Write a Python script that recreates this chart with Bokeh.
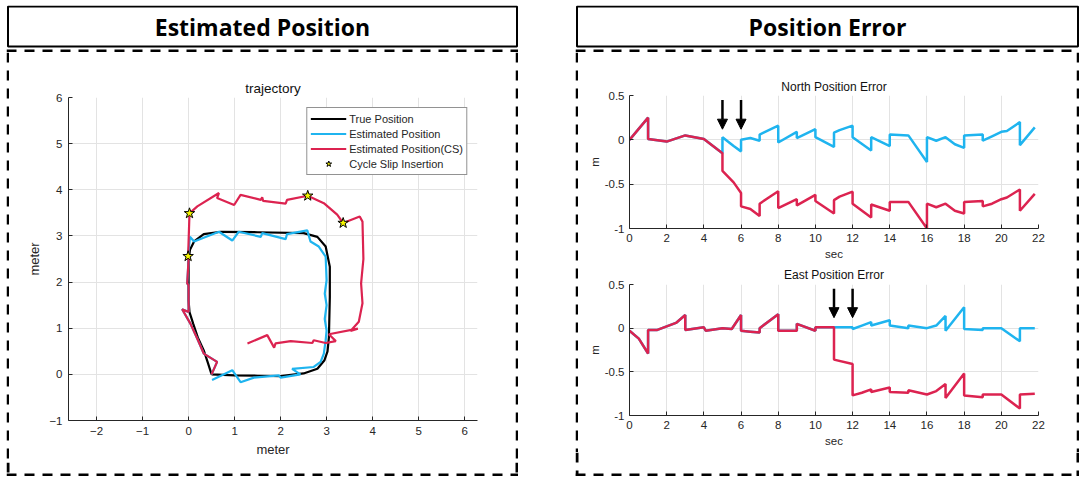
from bokeh.plotting import figure
from bokeh.layouts import row, column
from bokeh.models import (Range1d, FixedTicker, Legend, LegendItem, Label, Arrow,
                          NormalHead, Span, Spacer, BoxAnnotation)
from bokeh.embed import file_html
from bokeh.resources import INLINE

# ---------------- data: trajectory (meter) ----------------
true_x = [0.5, 0.42, 0.33, 0.2, 0.1, 0.02, 0.0, 0.0, 0.0, 0.03, 0.12, 0.33, 0.7, 1.5, 2.5, 2.8,
          2.98, 3.07, 3.07, 3.05, 3.02, 2.95, 2.8, 2.5, 2.0, 1.5, 1.0, 0.5]
true_y = [0.0, 0.25, 0.52, 0.8, 1.1, 1.35, 1.6, 2.0, 2.45, 2.7, 2.88, 3.04, 3.09, 3.08, 3.06, 2.98,
          2.77, 2.33, 1.67, 0.8, 0.5, 0.3, 0.12, 0.02, -0.04, -0.03, -0.02, 0.0]
common_x = [0.5, 0.62, 0.33, 0.2, 0.04, -0.14, 0.0, 0.0, -0.03, 0.0, -0.01]
common_y = [0.0, 0.27, 0.45, 0.75, 1.1, 1.41, 1.35, 1.93, 1.97, 2.48, 2.56]
est_after_x = [0.03, 0.12, 0.66, 0.95, 1.09, 1.57, 1.6, 2.11, 2.14, 2.58, 2.65, 2.83, 2.98, 3.0,
               2.96, 3.0, 2.96, 3.0, 2.98, 2.94, 2.87, 2.72, 2.25, 2.43, 2.0, 1.96, 1.42, 1.13,
               0.95, 0.51]
est_after_y = [2.98, 2.88, 3.09, 2.9, 3.09, 2.98, 3.06, 2.93, 3.04, 3.12, 2.88, 2.77, 2.55, 2.04,
               1.75, 1.5, 1.2, 0.95, 0.74, 0.45, 0.27, 0.16, 0.12, 0.0, -0.07, -0.02, -0.07, -0.17,
               0.09, -0.12]
cs_after_x = [0.02, 0.19, 0.66, 0.62, 0.99, 1.13, 1.57, 1.6, 1.62, 2.11, 2.14, 2.59, 2.94, 3.23,
              3.36, 3.72, 3.78, 3.8, 3.75, 3.78, 3.7, 3.52, 3.68, 3.05, 3.2, 2.98, 2.72, 2.69,
              2.22, 1.89, 1.86, 1.71, 1.28]
cs_after_y = [3.49, 3.64, 3.93, 3.82, 3.67, 3.89, 3.78, 3.84, 3.76, 3.7, 3.78, 3.87, 3.71, 3.46,
              3.28, 3.42, 3.31, 2.5, 1.97, 1.54, 1.14, 0.94, 0.99, 0.87, 0.72, 0.68, 0.74, 0.68,
              0.72, 0.67, 0.58, 0.85, 0.67]
slip_x = [-0.01, 0.02, 2.59, 3.36]
slip_y = [2.56, 3.49, 3.87, 3.28]
traj_x_ticks = [-2, -1, 0, 1, 2, 3, 4, 5, 6]
traj_y_ticks = [-1, 0, 1, 2, 3, 4, 5, 6]

# ---------------- data: position errors (m) vs sec ----------------
north_t = [0, 1, 1, 2, 3, 4, 5, 5, 5.6, 6, 6, 6.5, 7, 7, 8, 8, 9, 9, 10, 10, 11, 11, 11.3, 12, 12,
           13, 13, 14, 14, 15, 16, 16, 16.5, 17, 17.5, 18, 18, 19, 19, 19.5, 20, 20.3, 21, 21, 21.8]
north_est = [0.0, 0.25, 0.01, -0.02, 0.05, 0.01, -0.15, 0.03, -0.07, -0.13, 0.0, 0.02, -0.01, 0.06,
             0.16, -0.03, 0.09, 0.02, 0.12, 0.03, -0.08, 0.08, 0.11, 0.16, 0.03, -0.12, 0.03, -0.07,
             0.06, 0.05, -0.25, 0.03, -0.01, 0.03, -0.05, -0.09, 0.05, 0.06, -0.01, 0.04, 0.09, 0.1,
             0.2, -0.06, 0.14]
north_cs = [0.0, 0.25, 0.01, -0.02, 0.05, 0.01, -0.15, -0.35, -0.48, -0.6, -0.75, -0.78, -0.86,
            -0.72, -0.58, -0.77, -0.67, -0.74, -0.62, -0.69, -0.83, -0.68, -0.64, -0.585, -0.72,
            -0.875, -0.73, -0.8, -0.7, -0.7, -1.0, -0.72, -0.76, -0.72, -0.8, -0.83, -0.7, -0.69,
            -0.75, -0.72, -0.67, -0.65, -0.56, -0.8, -0.61]
north_slip_t = [5, 6]

east_t = [0, 0.5, 1, 1, 1.5, 2, 2.5, 3, 3, 4, 4.1, 5, 5.5, 6, 6, 6.5, 7, 7, 8, 8, 9, 9, 10, 10,
          11, 11, 12, 12, 12.5, 13, 13, 14, 14, 15, 15, 16, 16.5, 17, 17, 18, 18, 19, 19, 20, 21,
          21, 21.8]
east_est = [-0.03, -0.12, -0.29, -0.02, -0.02, 0.02, 0.06, 0.15, -0.02, 0.01, -0.03, 0.0, -0.01,
            0.15, -0.03, -0.04, -0.05, 0.0, 0.16, -0.03, -0.03, 0.05, -0.03, 0.01, 0.01, 0.01,
            0.01, -0.01, 0.03, 0.07, 0.03, 0.09, 0.03, 0.0, 0.03, 0.0, 0.03, 0.14, -0.03, 0.24,
            -0.01, -0.02, 0.0, 0.0, -0.15, 0.0, 0.0]
east_cs = [-0.03, -0.12, -0.29, -0.02, -0.02, 0.02, 0.06, 0.15, -0.02, 0.01, -0.03, 0.0, -0.01,
           0.15, -0.03, -0.04, -0.05, 0.0, 0.16, -0.03, -0.03, 0.05, -0.03, 0.01, 0.01, -0.36,
           -0.41, -0.77, -0.74, -0.70, -0.73, -0.68, -0.73, -0.74, -0.71, -0.76, -0.72, -0.64,
           -0.8, -0.52, -0.77, -0.79, -0.76, -0.76, -0.92, -0.76, -0.75]
east_slip_t = [11, 12]

err_x_ticks = [0, 2, 4, 6, 8, 10, 12, 14, 16, 18, 20, 22]
err_y_ticks = [-1, -0.5, 0, 0.5]
err_y_labels = ["-1", "-0.5", "0", "0.5"]

# ---------------- styles ----------------
BLUE = "#1FB4EF"
RED = "#DC2350"
AX = "#262626"
GRID = "#e3e3e3"
FONT = "Liberation Sans"
DASH = "10 8"
DASH_W = 3


def bare(w, h, xr, yr, border):
    f = figure(width=w, height=h, x_range=Range1d(*xr), y_range=Range1d(*yr),
               x_axis_location=None, y_axis_location=None, toolbar_location=None,
               output_backend="svg", min_border=border, frame_align=False, title=None)
    f.grid.visible = False
    f.outline_line_color = None
    f.background_fill_color = "white"
    f.border_fill_color = "white"
    return f


def dash_span(f, loc, dim):
    f.add_layout(Span(location=loc, dimension=dim, line_color="black",
                      line_width=DASH_W, line_dash=DASH))


def vstrip(h):
    f = bare(3, h, (0, 3), (0, h), 0)
    dash_span(f, 1.5, "height")
    return f


def foot(w, h):
    # bottom part of the dashed panel box (side edges + bottom edge)
    f = bare(w, h, (0, w), (0, h), 0)
    dash_span(f, 1.5, "height")
    dash_span(f, w - 1.5, "height")
    dash_span(f, 1.5, "width")
    return f


def title_head(text, w, h=47):
    # solid title box + gap + top edge of the dashed panel box
    f = bare(w, h, (0, w), (0, h), 0)
    f.add_layout(BoxAnnotation(left=1.5, right=w - 1.5, top=h - 1, bottom=h - 41,
                               fill_color=None, fill_alpha=0, line_color="black",
                               line_alpha=1, line_width=2))
    f.add_layout(Label(x=w / 2, y=h - 21, text=text, text_align="center",
                       text_baseline="middle", text_font="Open Sans",
                       text_font_style="bold", text_font_size="23px", text_color="black"))
    dash_span(f, 1.5, "width")
    return f


def style_axes(p, xticks, yticks, tick_px, label_px):
    p.xaxis.ticker = FixedTicker(ticks=xticks)
    p.yaxis.ticker = FixedTicker(ticks=yticks)
    p.axis.axis_line_color = AX
    p.axis.axis_line_width = 1
    p.axis.major_tick_line_color = AX
    p.axis.major_tick_in = 4
    p.axis.major_tick_out = 0
    p.axis.minor_tick_line_color = None
    p.axis.major_label_text_font = FONT
    p.axis.major_label_text_font_size = tick_px
    p.axis.major_label_text_color = AX
    p.axis.axis_label_text_font = FONT
    p.axis.axis_label_text_font_size = label_px
    p.axis.axis_label_text_font_style = "normal"
    p.axis.axis_label_text_color = AX
    p.grid.grid_line_color = GRID
    p.outline_line_color = None
    p.title.text_font = FONT
    p.title.text_font_style = "normal"
    p.title.text_color = "#111111"
    p.title.align = "center"


# ---------------- left: trajectory ----------------
LW = 512
TW, TH = 506, 410
traj = figure(width=TW, height=TH, x_range=Range1d(-2.61, 6.28), y_range=Range1d(-1, 6),
              min_border_left=59, min_border_right=38, min_border_top=45, min_border_bottom=42,
              toolbar_location=None, output_backend="svg", title="trajectory",
              x_axis_label="meter", y_axis_label="meter", frame_align=False)
style_axes(traj, traj_x_ticks, traj_y_ticks, "11.5px", "13px")
traj.title.text_font_size = "13.5px"
traj.title.standoff = 3
traj.axis.major_label_standoff = 6
traj.xaxis.axis_label_standoff = 4
traj.yaxis.axis_label_standoff = 4

r_true = traj.line(true_x, true_y, line_width=2.2, color="black")
r_est = traj.line(common_x + est_after_x, common_y + est_after_y, line_width=2.2, color=BLUE)
r_cs = traj.line(common_x + cs_after_x, common_y + cs_after_y, line_width=2.2, color=RED)
r_slip = traj.scatter(slip_x, slip_y, marker="star", size=11, fill_color="#F5F500",
                      line_color="black", line_width=1)
legend = Legend(items=[LegendItem(label="True Position", renderers=[r_true]),
                       LegendItem(label="Estimated Position", renderers=[r_est]),
                       LegendItem(label="Estimated Position(CS)", renderers=[r_cs]),
                       LegendItem(label="Cycle Slip Insertion", renderers=[r_slip])],
                location="top_right", margin=10, padding=3, spacing=0,
                glyph_width=36, glyph_height=15, label_height=15, label_standoff=3,
                label_text_font=FONT, label_text_font_size="11px", label_text_color=AX,
                border_line_color=AX, border_line_width=1, background_fill_alpha=1)
traj.add_layout(legend)

# ---------------- right: errors ----------------
RPW = 504
RW = 498


def err_fig(h, top, bottom, title):
    f = figure(width=RW, height=h, x_range=Range1d(0, 22), y_range=Range1d(-1, 0.5),
               min_border_left=51, min_border_right=38, min_border_top=top,
               min_border_bottom=bottom, toolbar_location=None, output_backend="svg",
               title=title, x_axis_label="sec", y_axis_label="m", frame_align=False)
    style_axes(f, err_x_ticks, err_y_ticks, "11.5px", "11.5px")
    f.yaxis.major_label_overrides = dict(zip(err_y_ticks, err_y_labels))
    f.title.text_font_size = "12px"
    f.axis.major_label_standoff = 5
    f.xaxis.axis_label_standoff = 3
    f.yaxis.axis_label_standoff = 1
    return f


def arrows(f, ts):
    for t in ts:
        f.add_layout(Arrow(end=NormalHead(size=10, fill_color="black", line_color="black",
                                          line_width=1),
                           x_start=t, y_start=0.45, x_end=t, y_end=0.12,
                           line_width=2.5, line_color="black"))


NH = 210
north = err_fig(NH, 43, 34, "North Position Error")
north.title.standoff = 4
north.line(north_t, north_est, line_width=2.5, color=BLUE)
north.line(north_t, north_cs, line_width=2.5, color=RED)
arrows(north, north_slip_t)

EH = 190
east = err_fig(EH, 22, 37, "East Position Error")
east.title.standoff = 5
east.line(east_t, east_est, line_width=2.5, color=BLUE)
east.line(east_t, east_cs, line_width=2.5, color=RED)
arrows(east, east_slip_t)

left = column(Spacer(height=5), title_head("Estimated Position", LW),
              row(vstrip(TH), traj, vstrip(TH)), foot(LW, 14))
right = column(Spacer(height=5), title_head("Position Error", RPW),
               row(vstrip(NH + EH), column(north, east), vstrip(NH + EH)),
               foot(RPW, 24))
page = row(Spacer(width=6), left, Spacer(width=57), right)

open("out.html", "w").write(file_html(page, INLINE))
